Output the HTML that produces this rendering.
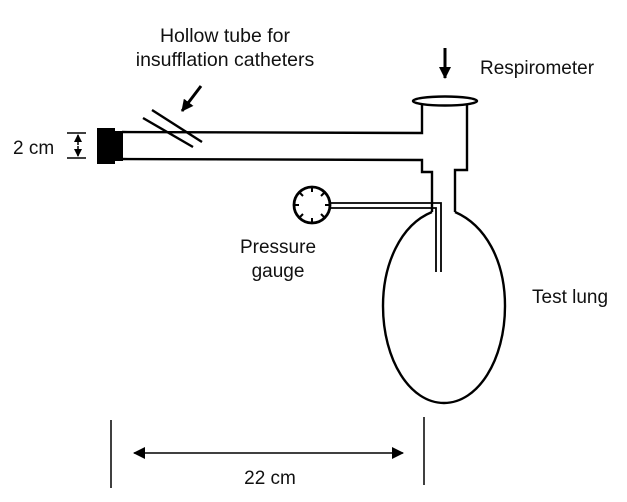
<!DOCTYPE html>
<html><head><style>body{margin:0;background:#fff}svg{display:block}text{font-family:"Liberation Sans",sans-serif;fill:#111}</style></head><body>
<svg width="627" height="502" viewBox="0 0 627 502" xmlns="http://www.w3.org/2000/svg">
<defs><marker id="ah" markerWidth="8" markerHeight="8" refX="7" refY="4" orient="auto" markerUnits="userSpaceOnUse"><path d="M0,0 L8,4 L0,8 z" fill="#000"/></marker>
<marker id="ah2" markerWidth="12" markerHeight="12" refX="11" refY="6" orient="auto" markerUnits="userSpaceOnUse"><path d="M0,0 L12,6 L0,12 z" fill="#000"/></marker></defs>
<g stroke="#000" stroke-width="2.4" fill="none">
<path d="M122,132 L422,133 L422,102"/>
<path d="M122,159 L422,160 L422,172 L432,172 L432,212"/>
<path d="M467,102 L467,170 L455,170 L455,212"/>
<ellipse cx="445" cy="101" rx="32" ry="4.5" fill="#fff"/>
<path d="M432,212 C400,225 383,265 383,306 C383,360 410,403 444,403 C478,403 505,360 505,306 C505,260 485,225 455,212"/>
<line x1="152" y1="110" x2="202" y2="142"/>
<line x1="143" y1="118" x2="193" y2="147"/>
<circle cx="312" cy="205" r="18" fill="#fff" stroke-width="2.8"/>
</g>
<g stroke="#000" stroke-width="2">
<line x1="312" y1="187" x2="312" y2="192"/><line x1="312" y1="223" x2="312" y2="218"/>
<line x1="294" y1="205" x2="299" y2="205"/><line x1="330" y1="205" x2="325" y2="205"/>
<line x1="299" y1="192" x2="303" y2="196"/><line x1="325" y1="192" x2="321" y2="196"/>
<line x1="299" y1="218" x2="303" y2="214"/><line x1="325" y1="218" x2="321" y2="214"/>
</g>
<path d="M330,203 L441,203 L441,272 M330,208 L436,208 L436,272" stroke="#000" stroke-width="1.8" fill="none"/>
<rect x="97" y="128" width="18" height="36" fill="#000"/>
<rect x="113" y="131" width="10" height="30" fill="#000"/>
<g stroke="#000" stroke-width="1.5"><line x1="67" y1="133" x2="86" y2="133"/><line x1="67" y1="158" x2="86" y2="158"/></g>
<line x1="78" y1="145" x2="78" y2="135" stroke="#000" stroke-width="1.5" marker-end="url(#ah)"/>
<line x1="78" y1="146" x2="78" y2="156" stroke="#000" stroke-width="1.5" marker-end="url(#ah)"/>
<line x1="201" y1="86" x2="182" y2="111" stroke="#000" stroke-width="3" marker-end="url(#ah2)"/>
<line x1="445" y1="48" x2="445" y2="78" stroke="#000" stroke-width="3" marker-end="url(#ah2)"/>
<line x1="111" y1="420" x2="111" y2="488" stroke="#000" stroke-width="1.5"/>
<line x1="424" y1="417" x2="424" y2="485" stroke="#000" stroke-width="1.5"/>
<line x1="270" y1="453" x2="134" y2="453" stroke="#000" stroke-width="1.5" marker-end="url(#ah2)"/>
<line x1="270" y1="453" x2="403" y2="453" stroke="#000" stroke-width="1.5" marker-end="url(#ah2)"/>
<text x="225" y="42" font-size="19.5" text-anchor="middle">Hollow tube for</text>
<text x="225" y="66" font-size="19.5" text-anchor="middle">insufflation catheters</text>
<text x="13" y="154" font-size="19">2 cm</text>
<text x="480" y="74" font-size="19">Respirometer</text>
<text x="278" y="253" font-size="19" text-anchor="middle">Pressure</text>
<text x="278" y="277" font-size="19" text-anchor="middle">gauge</text>
<text x="532" y="303" font-size="19">Test lung</text>
<text x="270" y="484" font-size="19" text-anchor="middle">22 cm</text>
</svg>
</body></html>
